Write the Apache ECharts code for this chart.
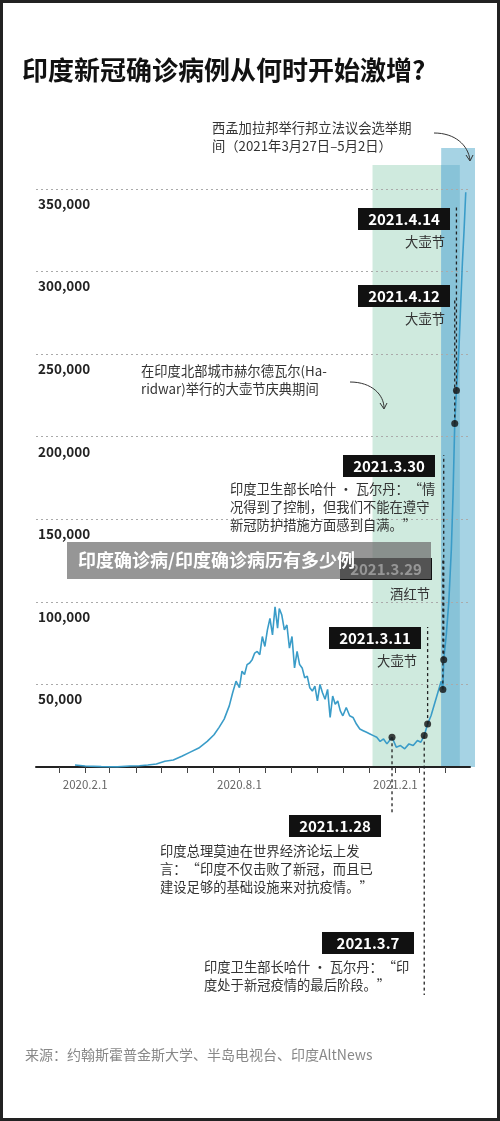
<!DOCTYPE html>
<html><head><meta charset="utf-8">
<script src="https://cdn.jsdelivr.net/npm/echarts@6/dist/echarts.min.js"></script>
<style>html,body{margin:0;padding:0;background:#fff}#c{width:500px;height:1121px}</style>
</head><body><div id="c"></div>
<script>
const dates = ['2020-01-20','2020-02-01','2020-02-20','2020-03-10','2020-03-25','2020-04-05','2020-04-15','2020-04-25','2020-05-05','2020-05-15','2020-05-25','2020-06-04','2020-06-14','2020-06-24','2020-07-02','2020-07-08','2020-07-14','2020-07-20','2020-07-24','2020-07-28','2020-08-01','2020-08-04','2020-08-07','2020-08-10','2020-08-13','2020-08-16','2020-08-19','2020-08-22','2020-08-25','2020-08-28','2020-08-31','2020-09-03','2020-09-06','2020-09-09','2020-09-12','2020-09-15','2020-09-17','2020-09-20','2020-09-23','2020-09-26','2020-09-29','2020-10-02','2020-10-05','2020-10-08','2020-10-11','2020-10-14','2020-10-17','2020-10-20','2020-10-23','2020-10-26','2020-10-29','2020-11-01','2020-11-04','2020-11-07','2020-11-10','2020-11-13','2020-11-16','2020-11-19','2020-11-22','2020-11-25','2020-11-28','2020-12-01','2020-12-05','2020-12-09','2020-12-13','2020-12-17','2020-12-21','2020-12-25','2020-12-29','2021-01-02','2021-01-06','2021-01-10','2021-01-14','2021-01-18','2021-01-22','2021-01-28','2021-02-02','2021-02-07','2021-02-12','2021-02-17','2021-02-22','2021-02-27','2021-03-03','2021-03-07','2021-03-11','2021-03-15','2021-03-19','2021-03-23','2021-03-27','2021-03-29','2021-03-30','2021-04-02','2021-04-05','2021-04-08','2021-04-10','2021-04-12','2021-04-14','2021-04-17','2021-04-19','2021-04-21','2021-04-23','2021-04-25'];
const cases = [1200,600,200,100,600,800,1200,1800,3500,4200,6500,9000,11500,15500,19500,24000,29000,37000,45000,52000,48000,58000,56000,62000,63000,65000,69000,70000,68000,79000,73000,83000,90000,80000,97000,84000,96000,92000,83000,86000,72000,79000,60000,70000,62000,60000,54000,55000,48000,46000,49000,40000,50000,45000,41000,47000,30000,43000,38000,40000,34000,31000,36000,31000,30000,26000,23000,22000,21000,20000,19000,18000,15500,17000,14000,18000,12000,13000,11000,14000,13000,16000,15000,19000,26000,31000,38000,45000,52000,47000,65000,80000,100000,132000,165000,208000,228000,254000,280000,305000,325000,348000];
const eventDates = ['2021-01-28','2021-03-07','2021-03-11','2021-03-29','2021-03-30','2021-04-12','2021-04-14'];
const eventValues = [18000,19000,26000,47000,65000,208000,228000];
const eventLabels = ['2021.1.28','2021.3.7','2021.3.11','2021.3.29','2021.3.30','2021.4.12','2021.4.14'];
const tickLabels = {'2020-02-01':'2020.2.1','2020-08-01':'2020.8.1','2021-02-01':'2021.2.1'};

const chart = echarts.init(document.getElementById('c'));
const F = '"Noto Sans CJK SC","Noto Sans",sans-serif';
chart.setOption({
  animation:false,
  grid:{left:36,right:30,top:189,bottom:354},
  xAxis:{type:'time',min:'2019-12-05',max:'2021-04-30',
    minInterval:28*86400000,maxInterval:31*86400000,
    axisLine:{lineStyle:{color:'#222',width:2}},
    axisTick:{show:true,length:6,lineStyle:{color:'#444'}},
    splitLine:{show:false},
    axisLabel:{color:'#666',fontSize:11.5,fontFamily:F,margin:12,hideOverlap:false,showMinLabel:false,showMaxLabel:false,
      formatter:v=>{const d=new Date(v);const k=d.getFullYear()+'-'+String(d.getMonth()+1).padStart(2,'0')+'-'+String(d.getDate()).padStart(2,'0');return tickLabels[k]||'';}}},
  yAxis:{type:'value',min:0,max:350000,interval:50000,
    axisLine:{show:false},axisTick:{show:false},
    splitLine:{lineStyle:{color:'#aaa',type:[2,3]}},
    axisLabel:{inside:true,verticalAlign:'top',margin:2,padding:[8,0,0,0],color:'#222',fontSize:13.5,fontWeight:'bold',fontFamily:F,
      formatter:v=>v===0?'':v.toLocaleString('en-US')}},
  series:[
    {type:'line',data:dates.map((d,i)=>[d,cases[i]]),showSymbol:false,smooth:false,
      lineStyle:{color:'#3a9cc8',width:1.6},z:3},
    {type:'scatter',data:eventDates.map((d,i)=>[d,eventValues[i]]),symbolSize:7,itemStyle:{color:'#111'},z:5}
  ]
});

const px = (d,v)=>chart.convertToPixel({gridIndex:0},[d,v]);
const g = [];
const gx1 = px('2021-01-05',0)[0], gx2 = px('2021-04-18',0)[0];
const bx1 = px('2021-03-27',0)[0], bx2 = 475;
const y0 = px('2021-01-05',0)[1];
g.push({type:'rect',shape:{x:gx1,y:165,width:gx2-gx1,height:y0-165},style:{fill:'#cfeade'},z:-10});
g.push({type:'rect',shape:{x:bx1,y:148,width:bx2-bx1,height:y0-148},style:{fill:'#a6d3e4'},z:-9});
g.push({type:'rect',shape:{x:bx1,y:165,width:gx2-bx1,height:y0-165},style:{fill:'#88c3d8'},z:-8});

const ev = [
  [6,450,208,205],[5,450,285,300],[4,435,455,455],[3,432,558,560],[2,421,627,627],[0,381,815,815],[1,414,932,995]
];
const boxW=92, boxH=22;
ev.forEach(([i,r,t,ly])=>{
  const p = px(eventDates[i],eventValues[i]);
  g.push({type:'line',shape:{x1:p[0],y1:p[1],x2:p[0],y2:ly},style:{stroke:'#222',lineWidth:1.3,lineDash:[3,3]},z:20});
  g.push({type:'rect',shape:{x:r-boxW,y:t,width:boxW,height:boxH},style:{fill:'#111'},z:30});
  g.push({type:'text',x:r-boxW/2,y:t+boxH/2,style:{text:eventLabels[i],fill:'#fff',font:'bold 15px '+F,align:'center',verticalAlign:'middle'},z:31});
});
const T=(x,y,text,opt={},z=32)=>g.push({type:'text',x,y,z,style:Object.assign({text,fill:'#333',font:'13.3px '+F,lineHeight:18,verticalAlign:'top'},opt)});
T(445,233,'大壶节',{align:'right'});
T(445,310,'大壶节',{align:'right'});
T(230,480,'印度卫生部长哈什 · 瓦尔丹：“情\n况得到了控制，但我们不能在遵守\n新冠防护措施方面感到自满。”');
T(430,585,'酒红节',{align:'right'});
T(417,652,'大壶节',{align:'right'});
T(160,842,'印度总理莫迪在世界经济论坛上发\n言：“印度不仅击败了新冠，而且已\n建设足够的基础设施来对抗疫情。”');
T(204,958,'印度卫生部长哈什 · 瓦尔丹：“印\n度处于新冠疫情的最后阶段。”');
T(212,119,'西孟加拉邦举行邦立法议会选举期\n间（2021年3月27日–5月2日）');
T(141,362,'在印度北部城市赫尔德瓦尔(Ha-\nridwar)举行的大壶节庆典期间');
g.push({type:'bezierCurve',shape:{x1:434,y1:133,x2:470,y2:160,cpx1:455,cpy1:133,cpx2:468,cpy2:145},style:{stroke:'#333',lineWidth:1,fill:null},z:32});
g.push({type:'polyline',shape:{points:[[466,155],[470,161],[473,155]]},style:{stroke:'#333',lineWidth:1,fill:null},z:32});
g.push({type:'bezierCurve',shape:{x1:350,y1:382,x2:384,y2:408,cpx1:372,cpy1:382,cpx2:384,cpy2:395},style:{stroke:'#333',lineWidth:1,fill:null},z:32});
g.push({type:'polyline',shape:{points:[[380,403],[384,409],[387,403]]},style:{stroke:'#333',lineWidth:1,fill:null},z:32});
T(22,54,'印度新冠确诊病例从何时开始激增?',{font:'bold 26px '+F,fill:'#111',lineHeight:32});
T(25,1046,'来源：约翰斯霍普金斯大学、半岛电视台、印度AltNews',{font:'14px '+F,fill:'#888'});
g.push({type:'rect',shape:{x:67,y:542,width:364,height:37},style:{fill:'rgba(110,110,110,0.72)'},z:40});
T(78,547,'印度确诊病/印度确诊病历有多少例',{font:'bold 18px '+F,fill:'#fff',lineHeight:26},41);
g.push({type:'rect',shape:{x:1.5,y:1.5,width:497,height:1118},style:{fill:null,stroke:'#222',lineWidth:3},z:50});
chart.setOption({graphic:g});
</script></body></html>
